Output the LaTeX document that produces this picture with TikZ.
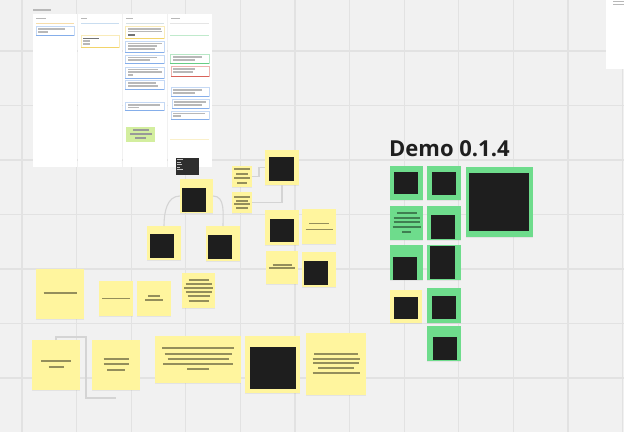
\documentclass[tikz,border=0pt]{standalone}
\usepackage{fontspec}
\setmainfont{Open Sans}
\usepackage{tikz}
\usetikzlibrary{positioning, calc, shadows}
\usepackage{color}
\definecolor{boardbg}{HTML}{F1F1F1}
\definecolor{gridline}{HTML}{E2E2E2}
\definecolor{noteyellow}{HTML}{FFF59E}
\definecolor{notegreen}{HTML}{6EDC8C}
\definecolor{redact}{HTML}{1E1E1E}
\definecolor{linkgrey}{HTML}{D4D4D4}
\definecolor{cardblue}{HTML}{6FA0E6}
\definecolor{cardyellow}{HTML}{F0CC50}
\definecolor{cardgreen}{HTML}{4CC46E}
\definecolor{cardred}{HTML}{D2463C}
\definecolor{blockgreen}{HTML}{D3EE9F}
\definecolor{headorange}{HTML}{F7DDAA}
\definecolor{headblue}{HTML}{C9DDF0}
\definecolor{headteal}{HTML}{D5E0E3}

% text bars on a note, w = half width, dy = offset from centre
\newcommand{\notelines}[2]{\foreach \w/\dy in {#2} \draw[bar] ($(#1.center)+(-\w,\dy)$) -- ($(#1.center)+(\w,\dy)$);}
% card on the board
\newcommand{\boardcard}[5]{\draw[fill=white, draw=#5!40, line width=0.6pt] (#1,#2) rectangle (#3,#4); \draw[#5!85, line width=1pt] (#1,#4) -- (#3,#4);}

\begin{document}
\begin{tikzpicture}[
        x=1pt, y=-1pt,
        note/.style={fill=noteyellow, inner sep=0pt, outer sep=0pt, drop shadow={shadow xshift=0pt, shadow yshift=-1.2pt, opacity=0.12}},
        greennote/.style={note, fill=notegreen},
        redactbox/.style={fill=redact, inner sep=0pt, outer sep=0pt},
        bar/.style={line width=1.5pt, draw=black, opacity=0.42},
        cardbar/.style={line width=1.1pt, draw=black!28},
        link/.style={draw=linkgrey, line width=1.1pt},
        title/.style={font=\fontsize{22}{26}\selectfont\bfseries, text=black!88, inner sep=0pt}
    ]

    % Canvas
    \useasboundingbox (0,0) rectangle (624,432);
    \fill[boardbg] (0,0) rectangle (624,432);
    \foreach \gx in {0,...,11} \draw[gridline, line width=1.2pt] ({22+54.6*\gx},0) -- ({22+54.6*\gx},432);
    \foreach \gy in {0,...,7} \draw[gridline, line width=1.2pt] (0,{-3.5+54.5*\gy}) -- (624,{-3.5+54.5*\gy});

    % Side panel
    \fill[white] (606,0) rectangle (624,69);
    \draw[cardbar, line width=0.8pt] (613,1) -- (624,1);
    \draw[cardbar, line width=0.8pt] (613,4) -- (624,4);

    % Board
    \draw[cardbar] (33,10) -- (51,10);
    \foreach \xa in {33,78,123,168} \fill[white] (\xa,14) rectangle ({\xa+44},167);
    \foreach \xa/\xb in {36/46,81/87,126/133,171/180} \draw[cardbar, line width=0.9pt] (\xa,18.5) -- (\xb,18.5);
    \draw[headorange, line width=0.9pt] (36,23.5) -- (74,23.5);
    \draw[headblue, line width=0.9pt] (81,23.5) -- (119,23.5);
    \draw[headteal, line width=0.9pt] (126,23.5) -- (164,23.5);
    \draw[black!10, line width=0.9pt] (170,23.5) -- (209,23.5);
    \draw[cardgreen!35, line width=0.9pt] (170,35) -- (209,35);
    \draw[cardyellow!30, line width=0.9pt] (170,139) -- (209,139);
    \foreach \xa/\ya/\xb/\yb/\c in {36/26/74/35/cardblue, 81/35/119/47/cardyellow,
        125/26/164/38/cardyellow, 125/41/164/52/cardblue, 125/55/164/63/cardblue,
        125/67/164/78/cardblue, 125/80/164/89/cardblue, 125/102/164/110/cardblue,
        170/54/209/63/cardgreen, 171/66/209/76/cardred, 171/87/209/96/cardblue,
        172/99/209/108/cardblue, 171/111/209/119/cardblue}
        \boardcard{\xa}{\ya}{\xb}{\yb}{\c};
    \foreach \xa/\xb/\yy in {38/65/29, 38/48/32, 83/90/41, 83/90/44,
        128/161/29, 128/162/31.5, 128/162/43.5, 128/157/46, 128/155/49,
        128/157/57.5, 128/150/60, 128/158/69.5, 128/162/72, 128/133/75,
        128/156/83, 128/158/86, 128/160/105, 128/139/107.5,
        173/202/57, 173/195/60, 173/195/69, 173/193/72, 173/202/90, 173/195/93,
        174/206/102, 174/202/105, 173/205/113.5, 173/181/116}
        \draw[cardbar] (\xa,\yy) -- (\xb,\yy);
    \draw[cardbar, draw=black!55] (83,38.5) -- (99,38.5);
    \draw[cardbar, draw=black!55] (128,35) -- (135,35);
    \fill[blockgreen] (126,127) rectangle (155,142);
    \foreach \xa/\xb/\yy in {133/149/130, 130/152/134, 135/146/138} \draw[cardbar, draw=black!40] (\xa,\yy) -- (\xb,\yy);

    % Nodes
    \node[redactbox, fill=black!82, minimum width=23pt, minimum height=17pt] (termShot) at (187.5,166.5) {};
    \foreach \xb/\yy in {183/159.5, 181/162, 182/164.5, 180/167, 183/169.5} \draw[white!75!black, line width=0.6pt] (177,\yy) -- (\xb,\yy);

    \node[note, minimum width=33pt, minimum height=34pt] (hub) at (196.5,196) {};
    \node[note, minimum width=34pt, minimum height=34pt] (subLeft) at (164,243) {};
    \node[note, minimum width=34pt, minimum height=35pt] (subRight) at (223,243.5) {};
    \node[note, minimum width=20pt, minimum height=21pt] (stepOne) at (242,176.5) {};
    \node[note, minimum width=20pt, minimum height=21pt] (stepTwo) at (242,202.5) {};
    \node[note, minimum width=34pt, minimum height=35pt] (cardTop) at (282,167.5) {};
    \node[note, minimum width=34pt, minimum height=35pt] (cardMid) at (282,227.5) {};
    \node[note, minimum width=34pt, minimum height=35pt] (cardNote) at (319,226.5) {};
    \node[note, minimum width=32pt, minimum height=33pt] (cardLow) at (282,267.5) {};
    \node[note, minimum width=34pt, minimum height=35pt] (cardLowRight) at (319,269.5) {};
    \node[note, minimum width=33pt, minimum height=35pt] (stackNote) at (198.5,290.5) {};
    \node[note, minimum width=48pt, minimum height=50pt] (wideLeft) at (60,294) {};
    \node[note, minimum width=34pt, minimum height=35pt] (midLeft) at (116,298.5) {};
    \node[note, minimum width=34pt, minimum height=35pt] (midRight) at (154,298.5) {};
    \node[note, minimum width=48pt, minimum height=50pt] (bottomLeft) at (56,365) {};
    \node[note, minimum width=48pt, minimum height=50pt] (bottomMid) at (116,365) {};
    \node[note, minimum width=86pt, minimum height=47pt] (bottomWide) at (198,359.5) {};
    \node[note, minimum width=55pt, minimum height=57pt] (bottomShot) at (272.5,364.5) {};
    \node[note, minimum width=60pt, minimum height=62pt] (bottomRight) at (336,364) {};

    \node[title, anchor=base west] (demo) at (389,156) {Demo 0.1.4};
    \node[greennote, minimum width=33pt, minimum height=34pt] (releaseA) at (406.5,183) {};
    \node[greennote, minimum width=34pt, minimum height=34pt] (releaseB) at (444,183) {};
    \node[greennote, minimum width=67pt, minimum height=70pt] (releaseBig) at (499.5,202) {};
    \node[greennote, minimum width=33pt, minimum height=34pt] (releaseC) at (406.5,223) {};
    \node[greennote, minimum width=34pt, minimum height=34pt] (releaseD) at (444,223) {};
    \node[greennote, minimum width=33pt, minimum height=35pt] (releaseE) at (406.5,262.5) {};
    \node[greennote, minimum width=34pt, minimum height=35pt] (releaseF) at (444,262.5) {};
    \node[note, minimum width=32pt, minimum height=33pt] (pending) at (406,306.5) {};
    \node[greennote, minimum width=34pt, minimum height=35pt] (releaseG) at (444,305.5) {};
    \node[greennote, minimum width=34pt, minimum height=35pt] (releaseH) at (444,343.5) {};

    % Hidden screenshots
    \node[redactbox, minimum width=24pt, minimum height=24pt] at (194,200) {};
    \node[redactbox, minimum width=24pt, minimum height=24pt] at (162,246) {};
    \node[redactbox, minimum width=24pt, minimum height=24pt] at (220,247) {};
    \node[redactbox, minimum width=25pt, minimum height=24pt] at (281.5,169) {};
    \node[redactbox, minimum width=24pt, minimum height=23pt] at (282,230.5) {};
    \node[redactbox, minimum width=24pt, minimum height=24pt] at (316,273) {};
    \node[redactbox, minimum width=46pt, minimum height=42pt] at (273,368) {};
    \node[redactbox, minimum width=24pt, minimum height=22pt] at (406,183) {};
    \node[redactbox, minimum width=24pt, minimum height=23pt] at (444,183.5) {};
    \node[redactbox, minimum width=60pt, minimum height=58pt] at (499,202) {};
    \node[redactbox, minimum width=24pt, minimum height=24pt] at (443,227) {};
    \node[redactbox, minimum width=24pt, minimum height=23pt] at (405,268.5) {};
    \node[redactbox, minimum width=25pt, minimum height=33pt] at (442.5,262.5) {};
    \node[redactbox, minimum width=24pt, minimum height=22pt] at (406,308) {};
    \node[redactbox, minimum width=24pt, minimum height=23pt] at (444,307.5) {};
    \node[redactbox, minimum width=24pt, minimum height=23pt] at (445,348.5) {};

    % Text bars
    \notelines{stepOne}{8/-7.5, 6/-2.5, 8/1.5, 5/6.5}
    \notelines{stepTwo}{8/-5.5, 6/-1.5, 8/1.5, 6/5.5}
    \notelines{cardNote}{10/-3, 13.5/3}
    \notelines{cardLow}{9.5/-2.5, 13/0.5}
    \notelines{stackNote}{10/-10.5, 13/-6.5, 14.5/-2.5, 13/1.5, 11/5.5, 10/10.5}
    \notelines{wideLeft}{16.5/-1}
    \notelines{midLeft}{14/0}
    \notelines{midRight}{6/-2.5, 9/1.5}
    \notelines{bottomLeft}{15/-4, 7.5/2}
    \notelines{bottomMid}{12.5/-6, 12.5/-1, 9/5}
    \notelines{bottomWide}{36/-11.5, 33.5/-5.5, 30.5/-0.5, 35/4.5, 11/9.5}
    \notelines{bottomRight}{22/-10, 23.5/-5, 23/-1, 18/4, 23.5/9}
    \notelines{releaseC}{10/-10, 13/-5, 13/-1, 14/4, 4.5/9}

    % Arrows
    \draw[link] (hub.west) to[out=180, in=90] (subLeft.north);
    \draw[link] (hub.east) to[out=0, in=90] (subRight.north);
    \draw[link] (stepOne.east) -- ++(7,0) |- (cardTop.west);
    \draw[link] (stepTwo.east) -| (cardTop.south);
    \coordinate (loopEnd) at ($(bottomMid.south)+(0,8)$);
    \draw[link] (bottomLeft.north) |- ($(bottomLeft.north)+(30,-3)$) |- (loopEnd);

    \end{tikzpicture}
\end{document}
